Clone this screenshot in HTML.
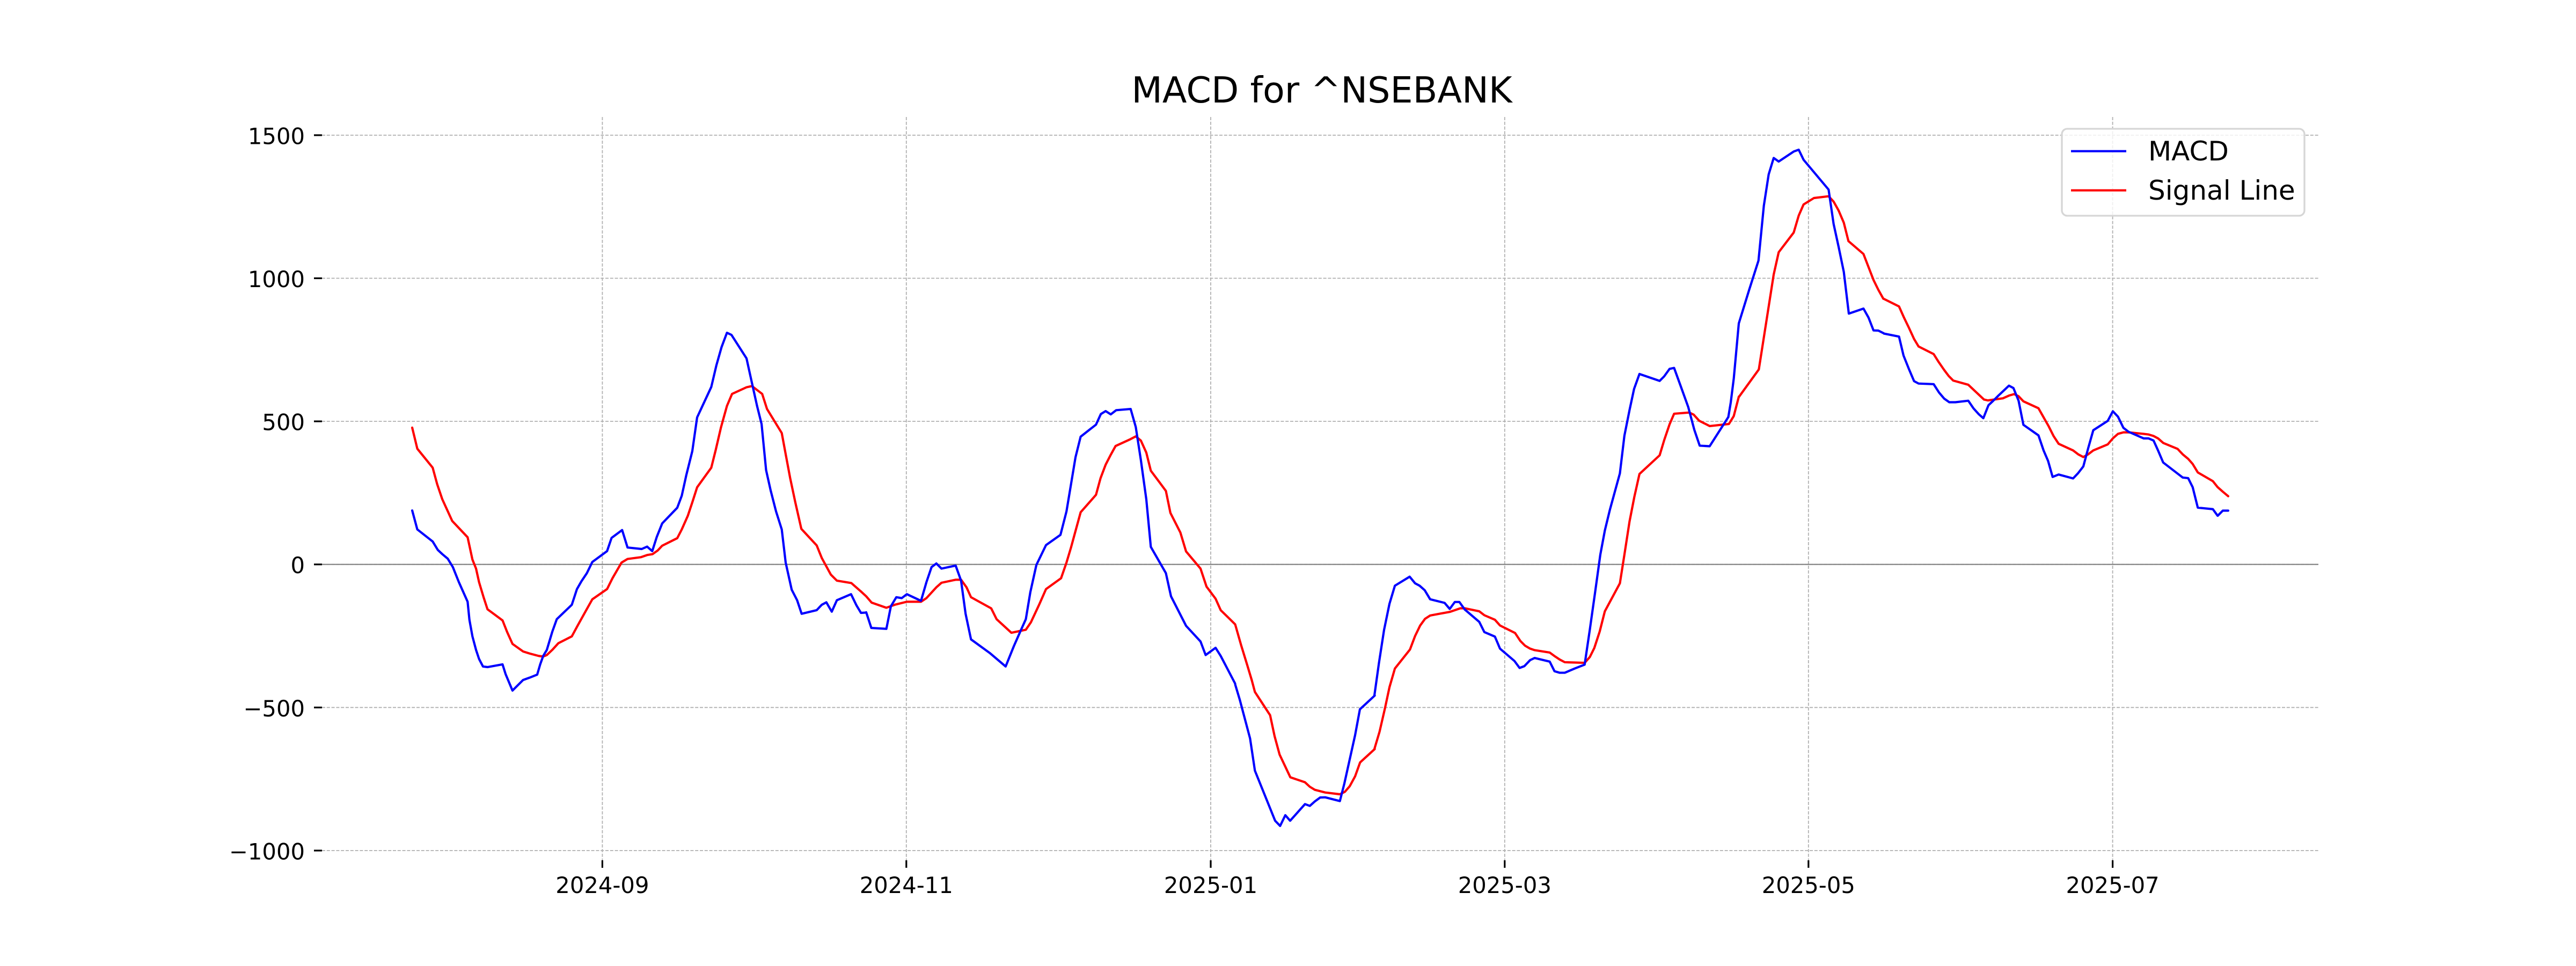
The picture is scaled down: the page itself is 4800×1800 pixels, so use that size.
<!DOCTYPE html>
<html>
<head>
<meta charset="utf-8">
<style>
  html, body { margin: 0; padding: 0; background: #ffffff; }
  svg { display: block; }
  text { font-family: "DejaVu Sans", "Liberation Sans", sans-serif; fill: #000; }
</style>
</head>
<body>
<svg width="4800" height="1800" viewBox="0 0 4800 1800" xmlns="http://www.w3.org/2000/svg">
  <rect x="0" y="0" width="4800" height="1800" fill="#ffffff"/>

  <!-- grid -->
  <g stroke="#b0b0b0" stroke-width="1.8" stroke-dasharray="6,2.8" fill="none">
    <line x1="600" y1="251.9" x2="4320" y2="251.9"/>
    <line x1="600" y1="518.5" x2="4320" y2="518.5"/>
    <line x1="600" y1="785.1" x2="4320" y2="785.1"/>
    <line x1="600" y1="1051.7" x2="4320" y2="1051.7"/>
    <line x1="600" y1="1318.3" x2="4320" y2="1318.3"/>
    <line x1="600" y1="1584.9" x2="4320" y2="1584.9"/>
    <line x1="1122.4" y1="218" x2="1122.4" y2="1603"/>
    <line x1="1688.8" y1="218" x2="1688.8" y2="1603"/>
    <line x1="2256" y1="218" x2="2256" y2="1603"/>
    <line x1="2803.8" y1="218" x2="2803.8" y2="1603"/>
    <line x1="3369.8" y1="218" x2="3369.8" y2="1603"/>
    <line x1="3936.6" y1="218" x2="3936.6" y2="1603"/>
  </g>

  <!-- zero line -->
  <line x1="600" y1="1051.7" x2="4320" y2="1051.7" stroke="#808080" stroke-width="2.2"/>

  <!-- ticks -->
  <g stroke="#000" stroke-width="3.2">
    <line x1="585" y1="251.9" x2="600" y2="251.9"/>
    <line x1="585" y1="518.5" x2="600" y2="518.5"/>
    <line x1="585" y1="785.1" x2="600" y2="785.1"/>
    <line x1="585" y1="1051.7" x2="600" y2="1051.7"/>
    <line x1="585" y1="1318.3" x2="600" y2="1318.3"/>
    <line x1="585" y1="1584.9" x2="600" y2="1584.9"/>
    <line x1="1122.4" y1="1603" x2="1122.4" y2="1617"/>
    <line x1="1688.8" y1="1603" x2="1688.8" y2="1617"/>
    <line x1="2256" y1="1603" x2="2256" y2="1617"/>
    <line x1="2803.8" y1="1603" x2="2803.8" y2="1617"/>
    <line x1="3369.8" y1="1603" x2="3369.8" y2="1617"/>
    <line x1="3936.6" y1="1603" x2="3936.6" y2="1617"/>
  </g>

  <!-- y tick labels -->
  <g font-size="41.7" text-anchor="end">
    <text x="568" y="268.4">1500</text>
    <text x="568" y="535">1000</text>
    <text x="568" y="801.6">500</text>
    <text x="568" y="1068.2">0</text>
    <text x="568" y="1334.8">−500</text>
    <text x="568" y="1601.4">−1000</text>
  </g>

  <!-- x tick labels -->
  <g font-size="41.7" text-anchor="middle">
    <text x="1122.4" y="1664">2024-09</text>
    <text x="1688.8" y="1664">2024-11</text>
    <text x="2256" y="1664">2025-01</text>
    <text x="2803.8" y="1664">2025-03</text>
    <text x="3369.8" y="1664">2025-05</text>
    <text x="3936.6" y="1664">2025-07</text>
  </g>

  <!-- title -->
  <text x="2463" y="191" font-size="66.7" text-anchor="middle">MACD for ^NSEBANK</text>

  <!-- Signal line (red) -->
  <g fill="none" stroke="#ff0000" stroke-linejoin="round" stroke-linecap="round">
    <polyline vector-effect="non-scaling-stroke" stroke-width="4.2" transform="translate(740,560) scale(0.56123)"
      points="50,422 67,492 118,555 133,610 150,660 183,732 234,786 250,860 262,890 272,935 287,985 300,1025 350,1062 365,1100 383,1140 418,1165 440,1172 470,1180 485,1182 497,1177 515,1160 535,1138 580,1115 600,1078 625,1033 648,992 697,958 715,922 745,870 765,858 810,852 830,845 848,842 865,830 880,814 930,789 945,760 965,715 980,670 996,620 1043,555 1058,495 1075,422 1095,350 1112,310 1160,288 1178,284 1212,310 1228,360 1277,440 1290,510 1305,590 1322,670 1342,758 1393,813 1410,855 1440,910 1460,930 1508,938 1540,966"/>
    <polyline vector-effect="non-scaling-stroke" stroke-width="4.2" transform="translate(1600,560) scale(0.56123)"
      points="7.7,966 25,982 43,1003 92,1020 120,1010 160,1000 207,1000 225,988 258,952 275,937 322,927 340,927 358,952 373,985 440,1022 458,1058 507,1103 555,1093 572,1068 600,1008 622,958 672,922 690,870 705,820 720,765 737,703 788,645 803,590 820,545 837,512 853,483 903,460 920,451 937,465 955,505 970,565 1020,632 1035,705 1068,770 1087,833 1135,890 1155,950 1185,990 1202,1028 1250,1075 1270,1145 1290,1210 1305,1260"/>
    <polyline vector-effect="non-scaling-stroke" stroke-width="4.2" transform="translate(2200,1180) scale(0.333333)"
      points="397.2,261.3 415,328 500,458 525,575 553,678 613,805 695,833 722,858 750,875 808,890 890,900 918,886 945,855 975,800 1003,722 1085,647"/>
    <polyline vector-effect="non-scaling-stroke" stroke-width="4.2" transform="translate(2460,680) scale(0.56123)"
      points="180,1275 197,1218 215,1140 230,1070 248,1008 298,945 315,900 332,865 348,843 365,832 397,826 430,820 465,808 480,808 528,818 545,831 580,846 597,865 647,890 665,917 680,932 697,942 712,947 762,955 780,968 795,978 812,987 878,989 895,970 910,940 928,885 945,818 995,725 1010,630 1027,520 1043,438 1060,362 1127,300 1142,250 1160,197 1175,162 1225,158 1240,165 1258,185 1293,203 1357,196 1373,170 1390,105"/>
    <polyline vector-effect="non-scaling-stroke" stroke-width="4.2" transform="translate(3120,250) scale(0.333333)"
      points="362,1467 472,1315 555,785 583,660 667,550 695,455 722,393 780,357 862,347 890,377 918,427 947,495 973,598 1057,670 1113,815 1140,870 1168,920"/>
    <polyline vector-effect="non-scaling-stroke" stroke-width="4.2" transform="translate(3300,250) scale(0.56123)"
      points="375,547 425,572 442,610 458,643 475,680 490,705 540,730 557,757 575,783 590,803 605,818 655,832 672,848 690,865 707,881 720,884 770,877 790,868 807,863 822,870 838,887 888,910 905,940 922,970 938,1002 955,1028 1003,1050 1020,1063 1037,1072 1053,1063 1070,1050 1118,1030 1135,1010 1152,995 1170,990 1187,990 1237,995 1253,997 1270,1002 1285,1010 1302,1025 1350,1045 1367,1063 1385,1078 1400,1095 1417,1123 1467,1152 1483,1172 1500,1187 1518,1202"/>
  </g>

  <!-- MACD (blue) -->
  <g fill="none" stroke="#0000ff" stroke-linejoin="round" stroke-linecap="round">
    <polyline vector-effect="non-scaling-stroke" stroke-width="4.2" transform="translate(740,560) scale(0.56123)"
      points="50,697 67,760 118,800 135,828 150,842 168,857 185,885 205,935 234,1000 240,1060 250,1115 262,1160 272,1190 285,1215 300,1217 350,1208 360,1240 383,1295 418,1260 440,1252 465,1242 475,1208 485,1180 497,1160 515,1100 530,1058 580,1010 597,958 612,932 630,905 648,868 697,832 712,788 747,762 765,820 812,825 830,817 847,832 862,785 880,740 930,688 945,648 960,580 980,500 996,388 1043,287 1060,215 1077,155 1095,107 1110,114 1160,192 1175,260 1195,350 1210,410 1225,563 1240,630 1258,700 1277,760 1290,870 1310,960 1328,995 1343,1040 1393,1028 1410,1010 1425,1002 1443,1033 1460,995 1507,975 1525,1012 1540,1037 1557,1036"/>
    <polyline vector-effect="non-scaling-stroke" stroke-width="4.2" transform="translate(1600,560) scale(0.56123)"
      points="25,1035 42,1087 92,1090 107,1015 125,985 143,988 160,975 207,997 225,935 242,885 258,873 275,890 322,880 340,930 355,1040 373,1125 435,1170 488,1215 515,1148 537,1098 555,1058 570,968 590,878 622,812 670,778 690,700 720,520 737,452 788,412 804,377 820,367 837,378 855,364 903,360 920,420 937,530 955,660 970,818 1020,905 1037,982 1087,1080 1135,1132 1152,1177 1185,1153 1202,1180 1250,1272"/>
    <polyline vector-effect="non-scaling-stroke" stroke-width="4.2" transform="translate(2200,1180) scale(0.333333)"
      points="305,287 330,370 388,588 415,768 528,1048 556,1077 585,1017 612,1048 695,955 722,965 750,940 780,918 808,917 890,938 915,840 975,570 1002,425 1085,348"/>
    <polyline vector-effect="non-scaling-stroke" stroke-width="4.2" transform="translate(2460,680) scale(0.56123)"
      points="180,1097 195,990 212,880 230,793 248,733 297,703 315,725 330,733 347,748 365,778 413,790 430,810 447,787 462,787 480,812 528,853 545,887 580,902 597,942 645,983 662,1006 678,1000 697,980 712,973 762,985 778,1017 795,1022 812,1022 845,1008 878,995 895,880 912,760 930,630 945,550 962,480 995,360 1010,235 1027,150 1042,80 1060,30 1127,53 1142,38 1160,13 1175,10 1195,65 1222,140 1242,215 1260,268 1293,270 1355,173"/>
    <polyline vector-effect="non-scaling-stroke" stroke-width="4.2" transform="translate(3120,250) scale(0.333333)"
      points="301.5,1581 315,1500 332,1365 360,1058 418,870 470,707 500,400 527,225 555,133 583,153 667,97 695,87 722,143 862,310 890,502 918,630 947,770 975,1003 1057,975 1085,1025 1113,1097 1140,1098 1170,1113"/>
    <polyline vector-effect="non-scaling-stroke" stroke-width="4.2" transform="translate(3300,250) scale(0.56123)"
      points="375,662 425,672 440,735 458,780 475,820 490,828 540,830 558,858 575,878 592,890 612,890 655,885 672,910 690,930 705,943 722,900 738,885 755,868 772,852 790,835 805,843 822,885 838,965 888,1000 905,1050 920,1085 935,1138 955,1130 1003,1143 1020,1125 1037,1103 1053,1043 1070,983 1118,952 1135,920 1152,938 1170,975 1187,988 1237,1010 1253,1010 1270,1017 1285,1050 1302,1090 1350,1127 1367,1140 1385,1142 1400,1172 1417,1240 1467,1245 1483,1267 1500,1250 1518,1250"/>
  </g>

  <!-- legend -->
  <rect x="3842" y="240" width="452" height="162" rx="10" ry="10" fill="#ffffff" fill-opacity="0.8" stroke="#d6d6d6" stroke-width="3.3"/>
  <line x1="3859" y1="281.7" x2="3962" y2="281.7" stroke="#0000ff" stroke-width="4.2"/>
  <line x1="3859" y1="354.7" x2="3962" y2="354.7" stroke="#ff0000" stroke-width="4.2"/>
  <text x="4003" y="299" font-size="50">MACD</text>
  <text x="4003" y="372" font-size="50">Signal Line</text>
</svg>
</body>
</html>
